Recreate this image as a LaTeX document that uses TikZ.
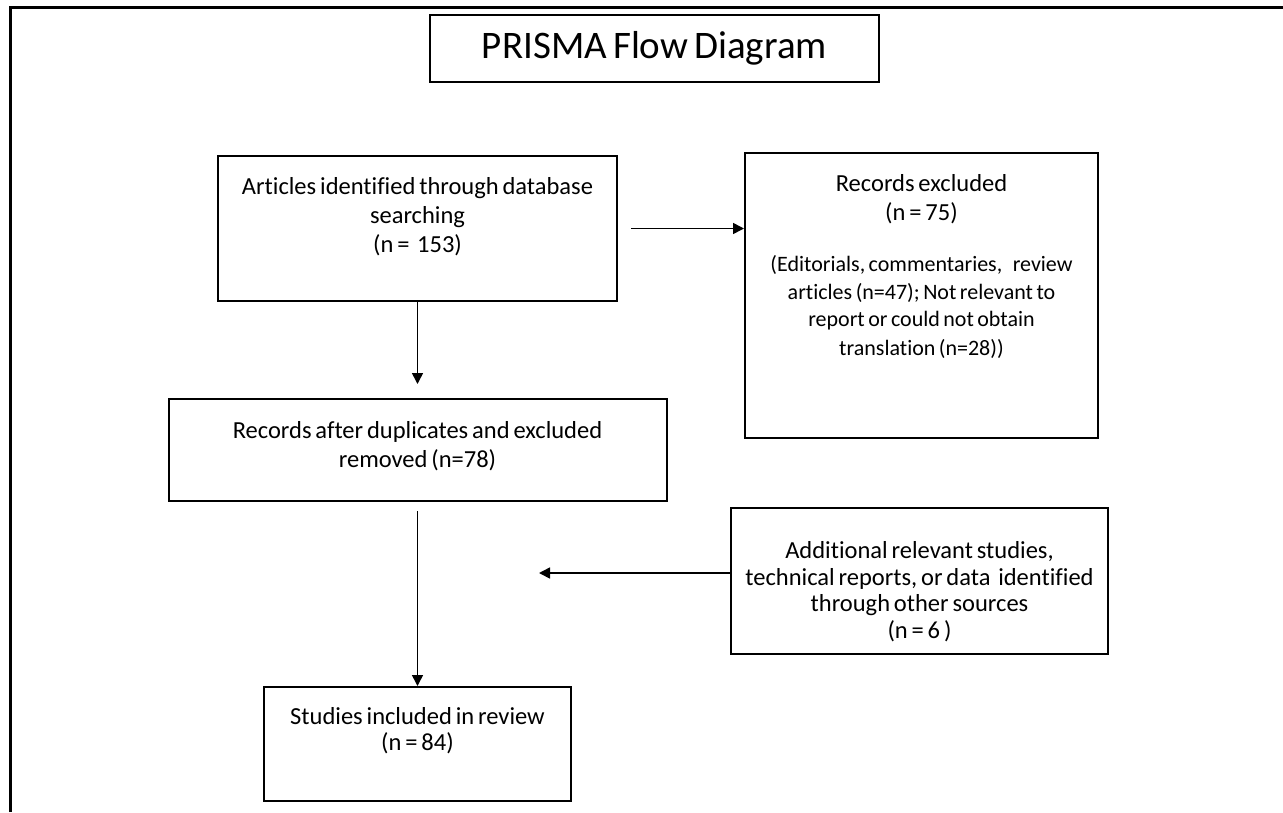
\documentclass[tikz,border=0pt]{standalone}
\usepackage{fontspec}
\setmainfont{Carlito}[WordSpace=0.7,Ligatures=NoCommon]
\usetikzlibrary{arrows.meta}
\usetikzlibrary{positioning}

\begin{document}
\begin{tikzpicture}[x=1pt,y=-1pt]
\tikzset{flowbox/.style={draw,line width=2pt,anchor=north,inner sep=0pt,align=flush center,text height=38.5pt,font=\fontsize{24.5}{29}\selectfont},
flowarrow/.style={line width=1.6pt,-{Triangle[length=11pt,width=11pt]}}}
\useasboundingbox (0,0) rectangle (1283,812);
\draw[line width=3pt](10,812) -- (10,7) -- (1283,7);
\node[draw,line width=2pt,minimum width=449pt,minimum height=67pt,font=\fontsize{39}{46}\selectfont](title) at (654.5,48.5){PRISMA Flow Diagram};
\node[flowbox,text width=399pt,text depth=106.5pt](articles) at (417.5,155){Articles identified through database\\searching\\(n =\ \ 153)};
\node[flowbox,text width=353pt,text depth=246.5pt](excluded)[right=126pt of articles.north east,anchor=north west,yshift=3pt]{Records excluded\\(n = 75)\\[23.5pt]\fontsize{22}{27.5}\selectfont (Editorials, commentaries,\ \ \ review\\articles (n=47); Not relevant to\\report or could not obtain\\translation (n=28))};
\node[flowbox,text width=498pt,text height=39.5pt,text depth=62.5pt](records)[below=96pt of articles]{Records after duplicates and excluded\\removed (n=78)};
\node[flowbox,text width=307pt,text height=37.5pt,text depth=76.5pt,font=\fontsize{24.5}{26}\selectfont](included)[below=184pt of records]{Studies included in review\\(n = 84)};
\node[flowbox,text width=377pt,text height=50.5pt,text depth=95.5pt,font=\fontsize{24.5}{26.5}\selectfont](additional)[below=68pt of excluded,xshift=-2pt]{Additional relevant studies,\\technical reports, or data\ \ identified\\through other sources\\(n = 6 )};
\coordinate (merge) at (539,573);
\draw[flowarrow]([xshift=13pt]articles.east) -- (excluded.west |- articles.east);
\draw[flowarrow](articles.south) -- ([yshift=14pt]records.north);
\draw[flowarrow]([yshift=-9pt]records.south) -- (included.north);
\draw[flowarrow](additional.west |- merge) -- (merge);
\end{tikzpicture}
\end{document}
